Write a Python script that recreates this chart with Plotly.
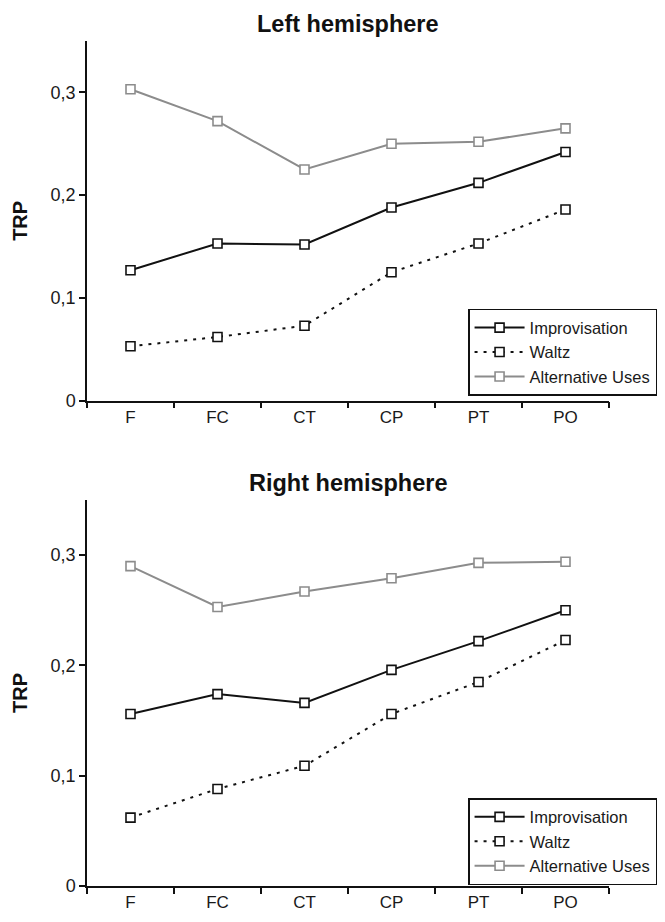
import plotly.graph_objects as go

categories = ["F", "FC", "CT", "CP", "PT", "PO"]

left_improvisation = [0.127, 0.153, 0.152, 0.188, 0.212, 0.242]
left_waltz = [0.053, 0.062, 0.073, 0.125, 0.153, 0.186]
left_alternative = [0.303, 0.272, 0.225, 0.250, 0.252, 0.265]

right_improvisation = [0.156, 0.174, 0.166, 0.196, 0.222, 0.250]
right_waltz = [0.062, 0.088, 0.109, 0.156, 0.185, 0.223]
right_alternative = [0.290, 0.253, 0.267, 0.279, 0.293, 0.294]

y_tickvals = [0, 0.1, 0.2, 0.3]
y_ticktext = ["0", "0,1", "0,2", "0,3"]

series_names = ["Improvisation", "Waltz", "Alternative Uses"]
BLACK = "#111111"
GRAY = "#8c8c8c"
styles = [
    dict(color=BLACK, width=2, dash="solid"),
    dict(color=BLACK, width=2, dash="3px,6px"),
    dict(color=GRAY, width=2, dash="solid"),
]
marker_colors = [BLACK, BLACK, GRAY]

FONT = "Liberation Sans, Arial, sans-serif"

fig = go.Figure()

panels = [
    (left_improvisation, left_waltz, left_alternative, "x", "y", "legend"),
    (right_improvisation, right_waltz, right_alternative, "x2", "y2", "legend2"),
]
for imp, wal, alt, xa, ya, lg in panels:
    for name, vals, st, mc in zip(series_names, [imp, wal, alt], styles, marker_colors):
        fig.add_trace(go.Scatter(
            x=categories, y=vals, name=name, mode="lines+markers",
            xaxis=xa, yaxis=ya, legend=lg,
            line=st,
            marker=dict(symbol="square", size=9, color="white",
                        line=dict(color=mc, width=1.6)),
        ))

axis_common_x = dict(
    type="category", tickson="boundaries", ticks="outside", ticklen=6,
    tickwidth=1.5, tickcolor=BLACK, showline=True, linecolor=BLACK, linewidth=1.5,
    showgrid=False, zeroline=False, range=[-0.5, 5.5], automargin=False,
    tickfont=dict(family=FONT, size=17, color="#1a1a1a"),
)
axis_common_y = dict(
    range=[0, 0.35], tickvals=y_tickvals, ticktext=y_ticktext,
    ticks="outside", ticklen=6, tickwidth=1.5, tickcolor=BLACK,
    showline=True, linecolor=BLACK, linewidth=1.5, showgrid=False, zeroline=False,
    automargin=False,
    tickfont=dict(family=FONT, size=18, color="#1a1a1a"),
    title=dict(text="<b>TRP</b>", font=dict(family=FONT, size=20, color="#111111"),
               standoff=18),
)

legend_common = dict(
    xanchor="left", yanchor="top", x=0.73,
    bordercolor=BLACK, borderwidth=1.5, bgcolor="white",
    font=dict(family=FONT, size=16.5, color="#1a1a1a"),
    itemwidth=50, tracegroupgap=0,
)

fig.update_layout(
    width=657, height=914,
    margin=dict(l=79, r=56, t=33, b=36, autoexpand=False),
    paper_bgcolor="white", plot_bgcolor="white",
    showlegend=True,
    xaxis=dict(domain=[0, 1], anchor="y", **axis_common_x),
    yaxis=dict(domain=[0.5743, 1], anchor="x", **axis_common_y),
    xaxis2=dict(domain=[0, 1], anchor="y2", **axis_common_x),
    yaxis2=dict(domain=[0, 0.4568], anchor="x2", **axis_common_y),
    legend=dict(y=0.683, **legend_common),
    legend2=dict(y=0.104, **legend_common),
    annotations=[
        dict(text="<b>Left hemisphere</b>", x=0.5, y=1.038, xref="paper", yref="paper",
             xanchor="center", yanchor="top", showarrow=False,
             font=dict(family=FONT, size=23.5, color="#111111")),
        dict(text="<b>Right hemisphere</b>", x=0.5, y=0.495, xref="paper", yref="paper",
             xanchor="center", yanchor="top", showarrow=False,
             font=dict(family=FONT, size=23.5, color="#111111")),
    ],
)

fig.write_html("out.html")
